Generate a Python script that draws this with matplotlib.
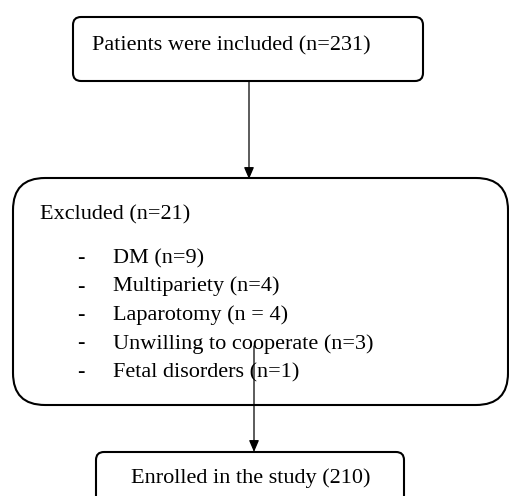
import matplotlib.pyplot as plt
from matplotlib.patches import FancyBboxPatch

plt.rcParams['font.family'] = ['Liberation Serif', 'DejaVu Serif']

# --- textos del diagrama ---
top_text = "Patients were included (n=231)"
excluded_title = "Excluded (n=21)"
excluded_items = ["DM (n=9)", "Multipariety (n=4)", "Laparotomy (n = 4)",
                  "Unwilling to cooperate (n=3)", "Fetal disorders (n=1)"]
bottom_text = "Enrolled in the study (210)"

W, H = 509, 496
fig = plt.figure(figsize=(W / 100, H / 100), dpi=100)
ax = fig.add_axes([0, 0, 1, 1])
ax.set_xlim(0, W)
ax.set_ylim(H, 0)
ax.axis("off")

fs = 16


def caja(x0, y0, x1, y1, r):
    p = FancyBboxPatch((x0 + r, y0 + r), (x1 - x0) - 2 * r, (y1 - y0) - 2 * r,
                       boxstyle=f"round,pad={r}", fc="white", ec="black", lw=1.5)
    ax.add_patch(p)


def flecha(x, y0, y1):
    ax.annotate("", xy=(x, y1), xytext=(x, y0),
                arrowprops=dict(arrowstyle="-|>,head_length=0.7,head_width=0.3",
                                color="black", lw=0.9, shrinkA=0, shrinkB=0))


# caja superior
caja(73, 17, 423, 81, 8)
ax.text(92, 50, top_text, fontsize=fs, va="baseline", ha="left")

# caja de excluidos
caja(13, 178, 508, 405, 32)
ax.text(40, 219, excluded_title, fontsize=fs, va="baseline", ha="left")
y = 263
for item in excluded_items:
    ax.text(77, y, "-", fontsize=fs, va="baseline", ha="left",
            fontweight="light")
    ax.text(113, y, item, fontsize=fs, va="baseline", ha="left")
    y += 28.5

# caja inferior (cortada por el borde)
caja(96, 452, 404, 520, 8)
ax.text(131, 483, bottom_text, fontsize=fs, va="baseline", ha="left")

# flechas
flecha(249, 81, 179)
flecha(254, 346, 452)

fig.savefig("out.png", dpi=100)
